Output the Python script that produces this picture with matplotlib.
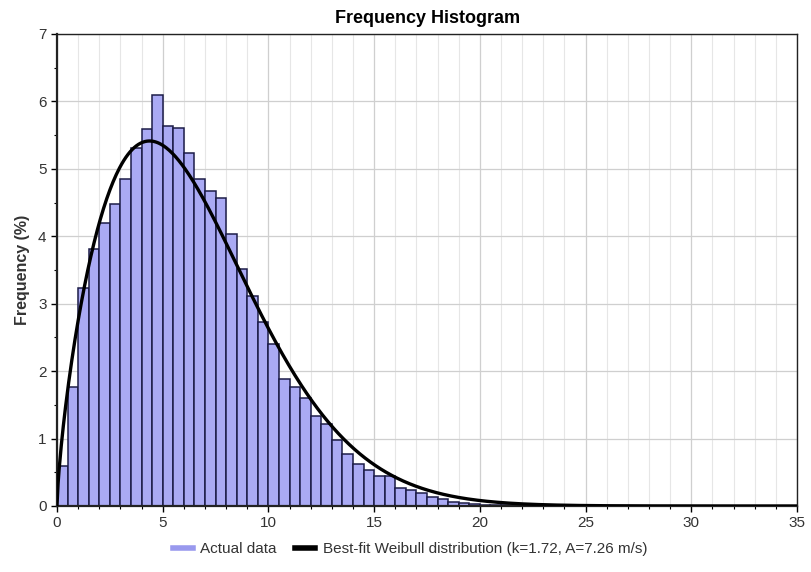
import numpy as np
import matplotlib
matplotlib.use("Agg")
import matplotlib.pyplot as plt
from matplotlib.lines import Line2D
from matplotlib.ticker import MultipleLocator

# Histogram of wind speed, 0.5 m/s bins starting at 0 (frequency in %)
bin_width = 0.5
freq = [0.60, 1.76, 3.24, 3.81, 4.20, 4.48, 4.85, 5.31, 5.59, 6.09,
        5.64, 5.61, 5.23, 4.85, 4.67, 4.57, 4.04, 3.52, 3.12, 2.73,
        2.40, 1.88, 1.76, 1.60, 1.33, 1.21, 0.98, 0.77, 0.63, 0.54,
        0.45, 0.44, 0.27, 0.24, 0.20, 0.14, 0.11, 0.06, 0.04, 0.03,
        0.02, 0.01, 0.01, 0.005, 0.005]

# Best-fit Weibull parameters from the legend
k_shape = 1.72
A_scale = 7.26

x_ticks = [0, 5, 10, 15, 20, 25, 30, 35]
y_ticks = [0, 1, 2, 3, 4, 5, 6, 7]


def weibull_pct(v, k, A, width):
    pdf = (k / A) * (v / A) ** (k - 1) * np.exp(-(v / A) ** k)
    return pdf * width * 100


plt.rcParams['font.family'] = ['Liberation Sans', 'DejaVu Sans']

fig = plt.figure(figsize=(8.12, 5.72), dpi=100)
ax = fig.add_axes([0.0702, 0.1154, 0.9113, 0.8252])

lefts = np.arange(len(freq)) * bin_width
ax.bar(lefts, freq, width=bin_width, align='edge', color='#aaaaf4',
       edgecolor='#1c1c48', linewidth=1.1, zorder=2)

v = np.linspace(0.001, 35, 700)
ax.plot(v, weibull_pct(v, k_shape, A_scale, bin_width), color='black', lw=2.4, zorder=3)

ax.set_xlim(0, 35)
ax.set_ylim(0, 7)
ax.set_xticks(x_ticks)
ax.set_yticks(y_ticks)
ax.xaxis.set_minor_locator(MultipleLocator(1))
ax.yaxis.set_minor_locator(MultipleLocator(0.5))
ax.grid(which='major', color='#cfcfcf', lw=0.9, zorder=0)
ax.grid(which='minor', axis='x', color='#e6e6e6', lw=0.8, zorder=0)
ax.set_axisbelow(True)

ax.tick_params(which='major', length=4, width=1, labelsize=11, labelcolor='#333333')
ax.tick_params(which='minor', length=2, width=0.8)
for s in ax.spines.values():
    s.set_color('#222222')
    s.set_linewidth(1.0)
ax.spines['left'].set_linewidth(1.6)
ax.spines['bottom'].set_linewidth(1.6)

fig.text(0.527, 0.968, 'Frequency Histogram', ha='center', va='center',
         fontsize=13, fontweight='bold', family=['Liberation Sans Narrow', 'Liberation Sans'])
ax.set_ylabel('Frequency (%)', fontsize=11.5, fontweight='bold', color='#333333', labelpad=6)

handles = [Line2D([0], [0], color='#9999ee', lw=4),
           Line2D([0], [0], color='black', lw=4)]
labels = ['Actual data', 'Best-fit Weibull distribution (k=1.72, A=7.26 m/s)']
fig.legend(handles, labels, loc='center', bbox_to_anchor=(0.505, 0.04), ncol=2,
           frameon=False, fontsize=11, handlelength=1.3, columnspacing=1.2,
           handletextpad=0.5, labelcolor='#333333')

fig.savefig('out.png', dpi=100)
